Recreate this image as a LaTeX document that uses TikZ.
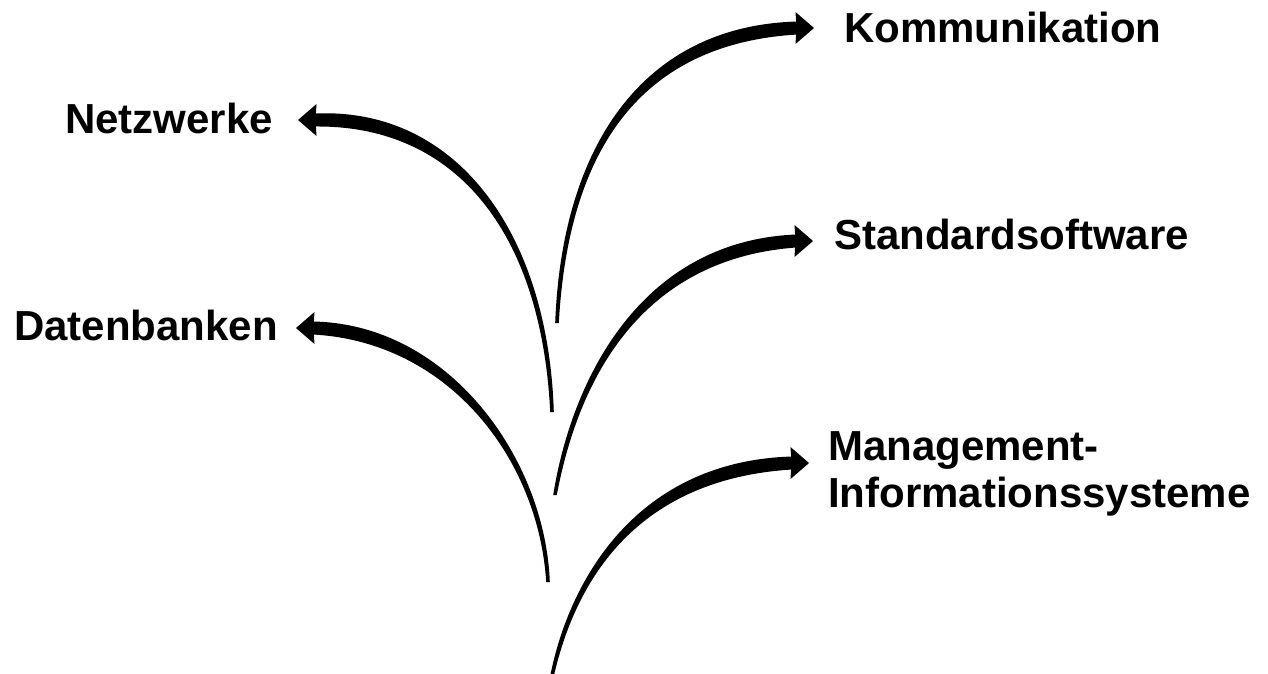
\documentclass[tikz,border=0pt]{standalone}
\usepackage{fontspec}
\setmainfont{Liberation Sans}
\usetikzlibrary{calc}
\tikzset{
  lbl/.style={font=\bfseries\fontsize{42}{47}\selectfont, inner sep=0pt, anchor=base west, align=left},
}
% #1 = name prefix, #2 = direction of the head (1 right, -1 left)
\newcommand\brush[2]{%
  \fill ($(#1B)+({-(#2)*1.8},0)$) .. controls ($(#1P)+({-(#2)*3.4},0)$) and ($(#1Q)+(0,-9)$) .. ($(#1H)+(0,-6.5)$)
     -- ($(#1H)+({(#2)*4},-6)$) -- ($(#1H)+({(#2)*4},6)$)
     -- ($(#1H)+(0,6.5)$) .. controls ($(#1Q)+(0,9)$) and ($(#1P)+({(#2)*3.4},0)$) .. ($(#1B)+({(#2)*1.8},0)$) -- cycle;
  \fill ($(#1H)+({(#2)*17},0)$) -- ($(#1H)+({-(#2)*1.5},-16)$) -- ($(#1H)+({-(#2)*0.5},0)$)
     -- ($(#1H)+({-(#2)*1.5},16)$) -- cycle;
}
\begin{document}
\begin{tikzpicture}[x=1pt,y=-1pt]
\useasboundingbox (0,0) rectangle (1268,673);
\fill[white] (0,0) rectangle (1268,673);
% labels
\node[lbl] (kom) at (844,42) {Kommunikation};
\node[lbl] (net) at (65,133) {Netzwerke};
\node[lbl] (std) at (834,249) {Standardsoftware};
\node[lbl] (dat) at (14,340) {Datenbanken};
\node[lbl, anchor=north west] (mis) at (828,431) {Management-\\Informationssysteme};
% Kommunikation
\coordinate (kB) at (557,323); \coordinate (kP) at (565,150); \coordinate (kQ) at (640,35); \coordinate (kH) at (797,28);
% Netzwerke
\coordinate (nB) at (552,412); \coordinate (nP) at (545,235); \coordinate (nQ) at (458,116); \coordinate (nH) at (315,120);
% Standardsoftware
\coordinate (sB) at (555,495); \coordinate (sP) at (575,380); \coordinate (sQ) at (640,250); \coordinate (sH) at (796,241);
% Datenbanken
\coordinate (dB) at (548,582); \coordinate (dP) at (542,460); \coordinate (dQ) at (450,333); \coordinate (dH) at (313,328);
% Management
\coordinate (mB) at (552,676); \coordinate (mP) at (573,578); \coordinate (mQ) at (638,470); \coordinate (mH) at (792,463);
\brush{k}{1}
\brush{n}{-1}
\brush{s}{1}
\brush{d}{-1}
\brush{m}{1}
\end{tikzpicture}
\end{document}
